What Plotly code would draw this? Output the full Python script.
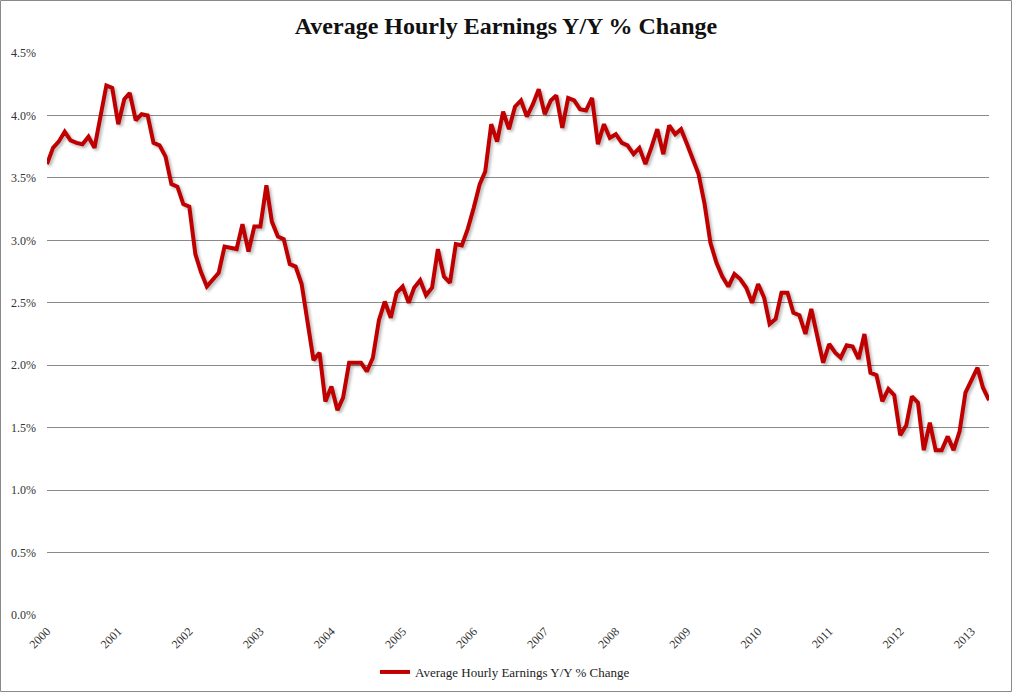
import pandas as pd
import plotly.graph_objects as go

# Monthly Y/Y % change in average hourly earnings, Jan 2000 .. Apr 2013
values = [
    # 2000
    3.61, 3.74, 3.79, 3.87, 3.80, 3.78, 3.77, 3.83, 3.74, 3.97, 4.24, 4.22,
    # 2001
    3.93, 4.13, 4.18, 3.96, 4.01, 4.00, 3.78, 3.76, 3.67, 3.45, 3.43, 3.29,
    # 2002
    3.27, 2.89, 2.75, 2.63, 2.69, 2.74, 2.95, 2.94, 2.93, 3.13, 2.91, 3.11,
    # 2003
    3.11, 3.44, 3.15, 3.03, 3.01, 2.81, 2.79, 2.65, 2.34, 2.04, 2.10, 1.71,
    # 2004
    1.83, 1.64, 1.74, 2.02, 2.02, 2.02, 1.95, 2.06, 2.36, 2.51, 2.38, 2.58,
    # 2005
    2.63, 2.50, 2.62, 2.68, 2.56, 2.62, 2.93, 2.71, 2.66, 2.97, 2.96, 3.09,
    # 2006
    3.26, 3.45, 3.55, 3.93, 3.79, 4.03, 3.89, 4.07, 4.12, 3.99, 4.09, 4.21,
    # 2007
    4.01, 4.12, 4.16, 3.90, 4.14, 4.12, 4.05, 4.04, 4.14, 3.77, 3.93, 3.82,
    # 2008
    3.85, 3.78, 3.76, 3.69, 3.74, 3.61, 3.74, 3.89, 3.69, 3.92, 3.85, 3.89,
    # 2009
    3.77, 3.65, 3.53, 3.29, 2.98, 2.82, 2.71, 2.63, 2.73, 2.69, 2.62, 2.50,
    # 2010
    2.65, 2.54, 2.33, 2.37, 2.58, 2.58, 2.42, 2.40, 2.25, 2.45, 2.23, 2.02,
    # 2011
    2.17, 2.10, 2.06, 2.16, 2.15, 2.05, 2.25, 1.94, 1.92, 1.71, 1.81, 1.76,
    # 2012
    1.44, 1.52, 1.75, 1.70, 1.32, 1.54, 1.32, 1.32, 1.43, 1.32, 1.47, 1.78,
    # 2013
    1.88, 1.98, 1.82, 1.72,
]
dates = pd.date_range("2000-01-01", periods=len(values), freq="MS")
years = list(range(2000, 2014))
tick_dates = [pd.Timestamp(f"{y}-01-01") for y in years]
tick_text = [str(y) for y in years]
y_ticks = [0.0, 0.5, 1.0, 1.5, 2.0, 2.5, 3.0, 3.5, 4.0, 4.5]
y_text = [f"{v:.1f}%" for v in y_ticks]

series_name = "Average Hourly Earnings Y/Y % Change"
SERIF = "Liberation Serif, Times New Roman, serif"

fig = go.Figure()
fig.add_trace(go.Scatter(
    x=dates, y=values, mode="lines", name=series_name,
    line=dict(color="#C00000", width=4),
))

W, H = 1012, 692
L, R, T, B = 47, 23, 53, 77
pw, ph = W - L - R, H - T - B

fig.update_layout(
    width=W, height=H,
    margin=dict(l=L, r=R, t=T, b=B, autoexpand=False),
    paper_bgcolor="white", plot_bgcolor="white",
    title=dict(text="<b>" + series_name + "</b>", x=0.5, xref="container",
               xanchor="center", y=1 - 26 / H, yref="container", yanchor="middle",
               automargin=False,
               font=dict(family=SERIF, size=24, color="#111111")),
    showlegend=True,
    legend=dict(orientation="h", x=505 / W, xref="container", xanchor="center",
                y=1 - 672 / H, yref="container", yanchor="middle",
                font=dict(family=SERIF, size=13, color="#222222"),
                bgcolor="rgba(0,0,0,0)"),
    xaxis=dict(range=[dates[0], dates[-1]], tickvals=tick_dates, ticktext=tick_text,
               tickangle=-45, showgrid=False, zeroline=False, showline=False,
               ticks="", ticklabelstandoff=6, automargin=False,
               tickfont=dict(family=SERIF, size=12, color="#333333")),
    yaxis=dict(range=[0, 4.5], tickvals=y_ticks, ticktext=y_text,
               showgrid=True, gridcolor="#8a8a8a", gridwidth=1,
               zeroline=False, showline=False, ticks="", ticklabelstandoff=10,
               automargin=False,
               tickfont=dict(family=SERIF, size=12, color="#333333")),
    shapes=[dict(type="rect", xref="paper", yref="paper",
                 x0=(0.5 - L) / pw, x1=(W - 0.5 - L) / pw,
                 y0=(T + ph - (H - 0.5)) / ph, y1=(T + ph - 0.5) / ph,
                 line=dict(color="#8a8a8a", width=1), layer="below")],
)

fig.write_html(
    "out.html",
    config={"displayModeBar": False, "staticPlot": True},
    post_script=(
        "document.body.style.margin='0';"
        "document.body.style.overflow='hidden';"
        "document.querySelectorAll('.scatterlayer .js-line').forEach(function(p){"
        "p.style.filter='drop-shadow(2px 2px 1.5px rgba(0,0,0,0.28))';});"
    ),
)
